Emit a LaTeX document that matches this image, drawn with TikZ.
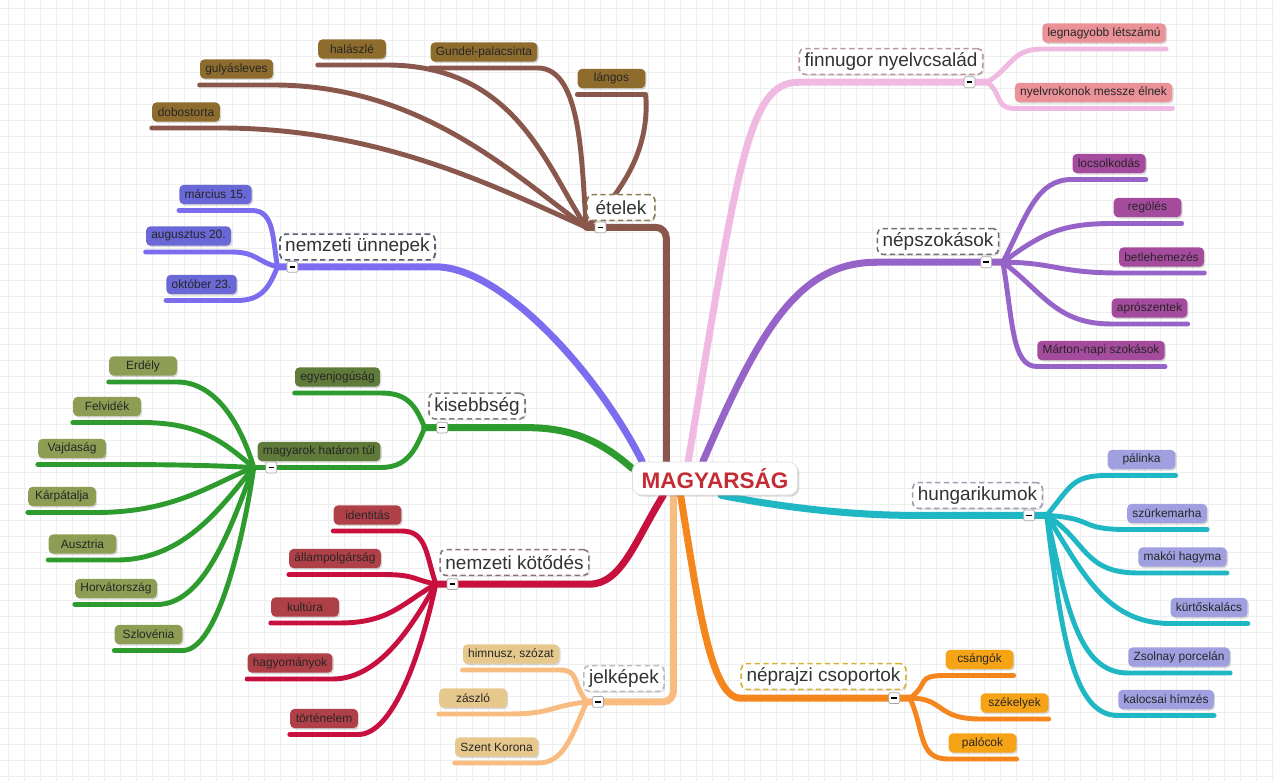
\documentclass[tikz,border=0pt]{standalone}
\usepackage{fontspec}
\setmainfont{Liberation Sans}
\usetikzlibrary{shadows}
\pgfdeclarelayer{background}
\pgfsetlayers{background,main}

\definecolor{etelline}{HTML}{8A574C}
\definecolor{etelbox}{HTML}{8E6C2E}
\definecolor{etelbord}{HTML}{8C7B55}
\definecolor{unnline}{HTML}{7C6CF0}
\definecolor{unnbox}{HTML}{6A67D6}
\definecolor{unnbord}{HTML}{555A6E}
\definecolor{kisline}{HTML}{2E9B2E}
\definecolor{kisbox}{HTML}{607A3A}
\definecolor{tajbox}{HTML}{8D9E54}
\definecolor{kisbord}{HTML}{808080}
\definecolor{kotline}{HTML}{C8103E}
\definecolor{kotbox}{HTML}{B04048}
\definecolor{kotbord}{HTML}{8C7373}
\definecolor{jelkline}{HTML}{F8BC80}
\definecolor{jelkbox}{HTML}{E6C88C}
\definecolor{jelkbord}{HTML}{BBBBBB}
\definecolor{neprline}{HTML}{F5861E}
\definecolor{neprbox}{HTML}{F7A316}
\definecolor{neprbord}{HTML}{D6B02E}
\definecolor{hungline}{HTML}{1EB7C3}
\definecolor{hungbox}{HTML}{A0A0E1}
\definecolor{hungbord}{HTML}{9C9CB4}
\definecolor{nepsline}{HTML}{9664C8}
\definecolor{nepsbox}{HTML}{A54B9E}
\definecolor{nepsbord}{HTML}{6E6E6E}
\definecolor{finnline}{HTML}{F0B9E1}
\definecolor{finnbox}{HTML}{EA9298}
\definecolor{finnbord}{HTML}{B8999F}
\definecolor{magred}{HTML}{C42B32}
\definecolor{gridgray}{HTML}{EEEEEE}

\tikzset{
  leaf/.style={rounded corners=2.5pt, minimum width=38.5pt, minimum height=11pt,
    inner xsep=3pt, inner ysep=0pt, text=black!85,
    font=\fontsize{6.8}{8}\selectfont,
    drop shadow={opacity=.3, shadow xshift=.8pt, shadow yshift=-.8pt}},
  topic/.style={draw=#1, fill=white, dash pattern=on 3pt off 2pt, line width=.9pt,
    rounded corners=3pt, minimum width=38.5pt, minimum height=14.7pt,
    inner xsep=3pt, inner ysep=0pt, text=black!80,
    font=\fontsize{10.8}{12}\selectfont,
    drop shadow={opacity=.2, shadow xshift=.8pt, shadow yshift=-.8pt}},
  trunk/.style={line width=4pt, line cap=round, line join=round},
  twig/.style={line width=2.8pt, line cap=round, line join=round},
  fold/.style={draw=gray!70, fill=white, rounded corners=.8pt, minimum size=6.2pt, inner sep=0pt},
}

\begin{document}
\begin{tikzpicture}[x=0.02cm, y=-0.02cm]
\useasboundingbox (0,0) rectangle (1274,781);
% Centre
\node[fill=white, draw=gray!25, line width=.4pt, rounded corners=5pt,
  minimum width=94pt, minimum height=18.7pt, inner sep=0pt, text=magred,
  font=\fontsize{12.8}{14}\selectfont\bfseries,
  drop shadow={opacity=.3, shadow xshift=1pt, shadow yshift=-1pt}]
  (magyar) at (715,478.5) {MAGYARSÁG};

% Topics
\node[topic=etelbord] (etelek) at (621,207.5) {ételek};
\node[topic=unnbord] (unnepek) at (357.5,247) {nemzeti ünnepek};
\node[topic=kisbord] (kisebbseg) at (477,406) {kisebbség};
\node[topic=kotbord] (kotodes) at (514.5,562.5) {nemzeti kötődés};
\node[topic=jelkbord] (jelkepek) at (624,678.5) {jelképek};
\node[topic=neprbord] (neprajzi) at (823.5,676.5) {néprajzi csoportok};
\node[topic=hungbord] (hungarik) at (977.5,495.5) {hungarikumok};
\node[topic=nepsbord] (nepszok) at (938,241.5) {népszokások};
\node[topic=finnbord] (finnugor) at (891,61.5) {finnugor nyelvcsalád};

% Leaves: ételek
\node[leaf, fill=etelbox] (dobostorta) at (186,112) {dobostorta};
\node[leaf, fill=etelbox] (gulyas) at (236.5,69) {gulyásleves};
\node[leaf, fill=etelbox] (halaszle) at (352,49) {halászlé};
\node[leaf, fill=etelbox] (gundel) at (484,52) {Gundel-palacsinta};
\node[leaf, fill=etelbox] (langos) at (611.5,78.5) {lángos};
% Leaves: nemzeti ünnepek
\node[leaf, fill=unnbox] (marcius) at (215.5,194.5) {március 15.};
\node[leaf, fill=unnbox] (augusztus) at (188.5,236) {augusztus 20.};
\node[leaf, fill=unnbox] (oktober) at (201.5,284.5) {október 23.};
% Leaves: kisebbség
\node[leaf, fill=kisbox] (egyenjog) at (337.5,377) {egyenjogúság};
\node[leaf, fill=kisbox] (hatar) at (319,451.5) {magyarok határon túl};
\node[leaf, fill=tajbox] (erdely) at (143,366) {Erdély};
\node[leaf, fill=tajbox] (felvidek) at (107,406.5) {Felvidék};
\node[leaf, fill=tajbox] (vajdasag) at (72,448.5) {Vajdaság};
\node[leaf, fill=tajbox] (karpat) at (62,496.5) {Kárpátalja};
\node[leaf, fill=tajbox] (ausztria) at (82.5,544) {Ausztria};
\node[leaf, fill=tajbox] (horvat) at (116,588.5) {Horvátország};
\node[leaf, fill=tajbox] (szloven) at (148.5,634.5) {Szlovénia};
% Leaves: nemzeti kötődés
\node[leaf, fill=kotbox] (identitas) at (367.5,515) {identitás};
\node[leaf, fill=kotbox] (allampolg) at (335,558.5) {állampolgárság};
\node[leaf, fill=kotbox] (kultura) at (305,607) {kultúra};
\node[leaf, fill=kotbox] (hagyomany) at (290,663) {hagyományok};
\node[leaf, fill=kotbox] (tortenelem) at (324,718.5) {történelem};
% Leaves: jelképek
\node[leaf, fill=jelkbox] (himnusz) at (511,654) {himnusz, szózat};
\node[leaf, fill=jelkbox] (zaszlo) at (473,698) {zászló};
\node[leaf, fill=jelkbox] (korona) at (496.5,747) {Szent Korona};
% Leaves: néprajzi csoportok
\node[leaf, fill=neprbox] (csangok) at (979.5,659.5) {csángók};
\node[leaf, fill=neprbox] (szekelyek) at (1014.5,703) {székelyek};
\node[leaf, fill=neprbox] (palocok) at (982.5,743) {palócok};
% Leaves: hungarikumok
\node[leaf, fill=hungbox] (palinka) at (1141.5,459.5) {pálinka};
\node[leaf, fill=hungbox] (szurke) at (1167,513.5) {szürkemarha};
\node[leaf, fill=hungbox] (makoi) at (1182.5,557) {makói hagyma};
\node[leaf, fill=hungbox] (kurtos) at (1209,607.5) {kürtőskalács};
\node[leaf, fill=hungbox] (zsolnay) at (1179,657) {Zsolnay porcelán};
\node[leaf, fill=hungbox] (kalocsai) at (1166,699.5) {kalocsai hímzés};
% Leaves: népszokások
\node[leaf, fill=nepsbox] (locsol) at (1109,163.5) {locsolkodás};
\node[leaf, fill=nepsbox] (regoles) at (1147.5,207.5) {regölés};
\node[leaf, fill=nepsbox] (betlehem) at (1161.5,257) {betlehemezés};
\node[leaf, fill=nepsbox] (apro) at (1149.5,308) {aprószentek};
\node[leaf, fill=nepsbox] (marton) at (1101,350.5) {Márton-napi szokások};
% Leaves: finnugor nyelvcsalád
\node[leaf, fill=finnbox] (legnagyobb) at (1104,33) {legnagyobb létszámú};
\node[leaf, fill=finnbox] (rokonok) at (1093.5,92.5) {nyelvrokonok messze élnek};

% Hubs
\coordinate (etelhub) at ([yshift=-3.5pt]etelek.south west);
\coordinate (unnhub) at ([xshift=-1pt,yshift=-3.5pt]unnepek.south west);
\coordinate (kishub) at ([xshift=-2pt,yshift=-4.5pt]kisebbseg.south west);
\coordinate (hatarhub) at ([xshift=-2pt,yshift=-3.4pt]hatar.south west);
\coordinate (kothub) at ([xshift=-2pt,yshift=-4.5pt]kotodes.south west);
\coordinate (jelkhub) at ([xshift=2pt,yshift=-5.5pt]jelkepek.south west);
\coordinate (neprhub) at ([xshift=2pt,yshift=-4.5pt]neprajzi.south east);
\coordinate (hunghub) at ([xshift=2pt,yshift=-3.5pt]hungarik.south east);
\coordinate (nepshub) at ([xshift=2pt,yshift=-4pt]nepszok.south east);
\coordinate (finnhub) at ([xshift=2pt,yshift=-4pt]finnugor.south east);

\begin{pgfonlayer}{background}
% Grid
\foreach \gx in {8,24,...,1272} \draw[gridgray, line width=.4pt] (\gx,0) -- (\gx,781);
\foreach \gy in {8,24,...,776} \draw[gridgray, line width=.4pt] (0,\gy) -- (1274,\gy);

% Trunks
\draw[trunk, etelline, rounded corners=6pt] (magyar.161) |- (etelhub);
\draw[trunk, unnline] (magyar.167) .. controls +(-46,-91) and +(65,0) .. ([yshift=-3.5pt]unnepek.south east) -- (unnhub);
\draw[trunk, kisline] (magyar.173) .. controls +(-32,-28) and +(45,0) .. ([yshift=-4.5pt]kisebbseg.south east) -- (kishub);
\draw[trunk, kotline] (magyar.198) .. controls +(-28,45) and +(32,0) .. ([yshift=-4.5pt]kotodes.south east) -- (kothub);
\draw[trunk, jelkline, rounded corners=6pt] (magyar.202) |- (jelkhub);
\draw[trunk, neprline] (magyar.206) .. controls +(17,105) and +(-30,0) .. ([yshift=-4.5pt]neprajzi.south west) -- (neprhub);
\draw[trunk, hungline] (magyar.290) .. controls +(60,12) and +(-60,0) .. ([yshift=-3.5pt]hungarik.south west) -- (hunghub);
\draw[trunk, nepsline] (magyar.126) .. controls +(57,-132) and +(-78,0) .. ([yshift=-4pt]nepszok.south west) -- (nepshub);
\draw[trunk, finnline] (magyar.148) .. controls +(50,-300) and +(-50,0) .. ([yshift=-4pt]finnugor.south west) -- (finnhub);

% Twigs: ételek
\draw[twig, etelline] (etelhub) .. controls +(-90,-40) and +(160,0) .. ([yshift=-3.4pt]dobostorta.south east) -- ([yshift=-3.4pt]dobostorta.south west);
\draw[twig, etelline] (etelhub) .. controls +(-70,-50) and +(150,0) .. ([yshift=-3.4pt]gulyas.south east) -- ([yshift=-3.4pt]gulyas.south west);
\draw[twig, etelline] (etelhub) .. controls +(-40,-60) and +(130,0) .. ([yshift=-3.4pt]halaszle.south east) -- ([yshift=-3.4pt]halaszle.south west);
\draw[twig, etelline] (etelhub) .. controls +(-5,-60) and +(45,0) .. ([yshift=-3.4pt]gundel.south east) -- ([yshift=-3.4pt]gundel.south west);
\draw[twig, etelline] (etelhub) .. controls +(30,-30) and +(5,60) .. ([yshift=-3.4pt]langos.south east) -- ([yshift=-3.4pt]langos.south west);
% Twigs: nemzeti ünnepek
\draw[twig, unnline] (unnhub) .. controls +(-5,-30) and +(22,0) .. ([yshift=-3.4pt]marcius.south east) -- ([yshift=-3.4pt]marcius.south west);
\draw[twig, unnline] (unnhub) .. controls +(-20,-5) and +(25,0) .. ([yshift=-3.4pt]augusztus.south east) -- ([yshift=-3.4pt]augusztus.south west);
\draw[twig, unnline] (unnhub) .. controls +(-8,20) and +(25,0) .. ([yshift=-3.4pt]oktober.south east) -- ([yshift=-3.4pt]oktober.south west);
% Twigs: kisebbség
\draw[twig, kisline] (kishub) .. controls +(-10,-25) and +(25,0) .. ([yshift=-3.4pt]egyenjog.south east) -- ([yshift=-3.4pt]egyenjog.south west);
\draw[twig, kisline] (kishub) .. controls +(-10,25) and +(25,0) .. ([yshift=-3.4pt]hatar.south east) -- (hatarhub);
\draw[twig, kisline] (hatarhub) .. controls +(-15,-50) and +(35,0) .. ([yshift=-3.4pt]erdely.south east) -- ([yshift=-3.4pt]erdely.south west);
\draw[twig, kisline] (hatarhub) .. controls +(-30,-25) and +(60,0) .. ([yshift=-3.4pt]felvidek.south east) -- ([yshift=-3.4pt]felvidek.south west);
\draw[twig, kisline] (hatarhub) .. controls +(-40,-2) and +(70,0) .. ([yshift=-3.4pt]vajdasag.south east) -- ([yshift=-3.4pt]vajdasag.south west);
\draw[twig, kisline] (hatarhub) .. controls +(-40,15) and +(80,0) .. ([yshift=-3.4pt]karpat.south east) -- ([yshift=-3.4pt]karpat.south west);
\draw[twig, kisline] (hatarhub) .. controls +(-30,35) and +(70,0) .. ([yshift=-3.4pt]ausztria.south east) -- ([yshift=-3.4pt]ausztria.south west);
\draw[twig, kisline] (hatarhub) .. controls +(-20,50) and +(50,0) .. ([yshift=-3.4pt]horvat.south east) -- ([yshift=-3.4pt]horvat.south west);
\draw[twig, kisline] (hatarhub) .. controls +(-10,70) and +(35,0) .. ([yshift=-3.4pt]szloven.south east) -- ([yshift=-3.4pt]szloven.south west);
% Twigs: nemzeti kötődés
\draw[twig, kotline] (kothub) .. controls +(-10,-30) and +(25,0) .. ([yshift=-3.4pt]identitas.south east) -- ([yshift=-3.4pt]identitas.south west);
\draw[twig, kotline] (kothub) .. controls +(-25,-5) and +(35,0) .. ([yshift=-3.4pt]allampolg.south east) -- ([yshift=-3.4pt]allampolg.south west);
\draw[twig, kotline] (kothub) .. controls +(-35,20) and +(50,0) .. ([yshift=-3.4pt]kultura.south east) -- ([yshift=-3.4pt]kultura.south west);
\draw[twig, kotline] (kothub) .. controls +(-25,45) and +(45,0) .. ([yshift=-3.4pt]hagyomany.south east) -- ([yshift=-3.4pt]hagyomany.south west);
\draw[twig, kotline] (kothub) .. controls +(-15,70) and +(35,0) .. ([yshift=-3.4pt]tortenelem.south east) -- ([yshift=-3.4pt]tortenelem.south west);
% Twigs: jelképek
\draw[twig, jelkline] (jelkhub) .. controls +(-15,-20) and +(20,0) .. ([yshift=-3.4pt]himnusz.south east) -- ([yshift=-3.4pt]himnusz.south west);
\draw[twig, jelkline] (jelkhub) .. controls +(-40,5) and +(45,0) .. ([yshift=-3.4pt]zaszlo.south east) -- ([yshift=-3.4pt]zaszlo.south west);
\draw[twig, jelkline] (jelkhub) .. controls +(-15,35) and +(25,0) .. ([yshift=-3.4pt]korona.south east) -- ([yshift=-3.4pt]korona.south west);
% Twigs: néprajzi csoportok
\draw[twig, neprline] (neprhub) .. controls +(20,-15) and +(-30,0) .. ([yshift=-3.4pt]csangok.south west) -- ([yshift=-3.4pt]csangok.south east);
\draw[twig, neprline] (neprhub) .. controls +(35,0) and +(-45,0) .. ([yshift=-3.4pt]szekelyek.south west) -- ([yshift=-3.4pt]szekelyek.south east);
\draw[twig, neprline] (neprhub) .. controls +(15,35) and +(-30,0) .. ([yshift=-3.4pt]palocok.south west) -- ([yshift=-3.4pt]palocok.south east);
% Twigs: hungarikumok
\draw[twig, hungline] (hunghub) .. controls +(25,-30) and +(-35,0) .. ([yshift=-3.4pt]palinka.south west) -- ([yshift=-3.4pt]palinka.south east);
\draw[twig, hungline] (hunghub) .. controls +(50,3) and +(-50,0) .. ([yshift=-3.4pt]szurke.south west) -- ([yshift=-3.4pt]szurke.south east);
\draw[twig, hungline] (hunghub) .. controls +(40,25) and +(-55,0) .. ([yshift=-3.4pt]makoi.south west) -- ([yshift=-3.4pt]makoi.south east);
\draw[twig, hungline] (hunghub) .. controls +(35,55) and +(-65,0) .. ([yshift=-3.4pt]kurtos.south west) -- ([yshift=-3.4pt]kurtos.south east);
\draw[twig, hungline] (hunghub) .. controls +(20,90) and +(-50,0) .. ([yshift=-3.4pt]zsolnay.south west) -- ([yshift=-3.4pt]zsolnay.south east);
\draw[twig, hungline] (hunghub) .. controls +(15,120) and +(-45,0) .. ([yshift=-3.4pt]kalocsai.south west) -- ([yshift=-3.4pt]kalocsai.south east);
% Twigs: népszokások
\draw[twig, nepsline] (nepshub) .. controls +(25,-50) and +(-35,0) .. ([yshift=-3.4pt]locsol.south west) -- ([yshift=-3.4pt]locsol.south east);
\draw[twig, nepsline] (nepshub) .. controls +(40,-30) and +(-50,0) .. ([yshift=-3.4pt]regoles.south west) -- ([yshift=-3.4pt]regoles.south east);
\draw[twig, nepsline] (nepshub) .. controls +(50,0) and +(-60,0) .. ([yshift=-3.4pt]betlehem.south west) -- ([yshift=-3.4pt]betlehem.south east);
\draw[twig, nepsline] (nepshub) .. controls +(40,30) and +(-55,0) .. ([yshift=-3.4pt]apro.south west) -- ([yshift=-3.4pt]apro.south east);
\draw[twig, nepsline] (nepshub) .. controls +(10,60) and +(-25,0) .. ([yshift=-3.4pt]marton.south west) -- ([yshift=-3.4pt]marton.south east);
% Twigs: finnugor nyelvcsalád
\draw[twig, finnline] (finnhub) .. controls +(25,-15) and +(-30,0) .. ([yshift=-3.4pt]legnagyobb.south west) -- ([yshift=-3.4pt]legnagyobb.south east);
\draw[twig, finnline] (finnhub) .. controls +(15,10) and +(-20,0) .. ([yshift=-3.4pt]rokonok.south west) -- ([yshift=-3.4pt]rokonok.south east);
\end{pgfonlayer}

% Fold buttons
\node[fold] (etelfold) at ([xshift=8pt]etelhub) {\rule{3.2pt}{.9pt}};
\node[fold] (unnfold) at ([xshift=8.5pt]unnhub) {\rule{3.2pt}{.9pt}};
\node[fold] (kisfold) at ([xshift=10pt]kishub) {\rule{3.2pt}{.9pt}};
\node[fold] (hatarfold) at ([xshift=10pt]hatarhub) {\rule{3.2pt}{.9pt}};
\node[fold] (kotfold) at ([xshift=9.5pt]kothub) {\rule{3.2pt}{.9pt}};
\node[fold] (jelkfold) at ([xshift=6.5pt]jelkhub) {\rule{3.2pt}{.9pt}};
\node[fold] (neprfold) at ([xshift=-9pt]neprhub) {\rule{3.2pt}{.9pt}};
\node[fold] (hungfold) at ([xshift=-10pt]hunghub) {\rule{3.2pt}{.9pt}};
\node[fold] (nepsfold) at ([xshift=-9.5pt]nepshub) {\rule{3.2pt}{.9pt}};
\node[fold] (finnfold) at ([xshift=-10pt]finnhub) {\rule{3.2pt}{.9pt}};
\end{tikzpicture}
\end{document}
